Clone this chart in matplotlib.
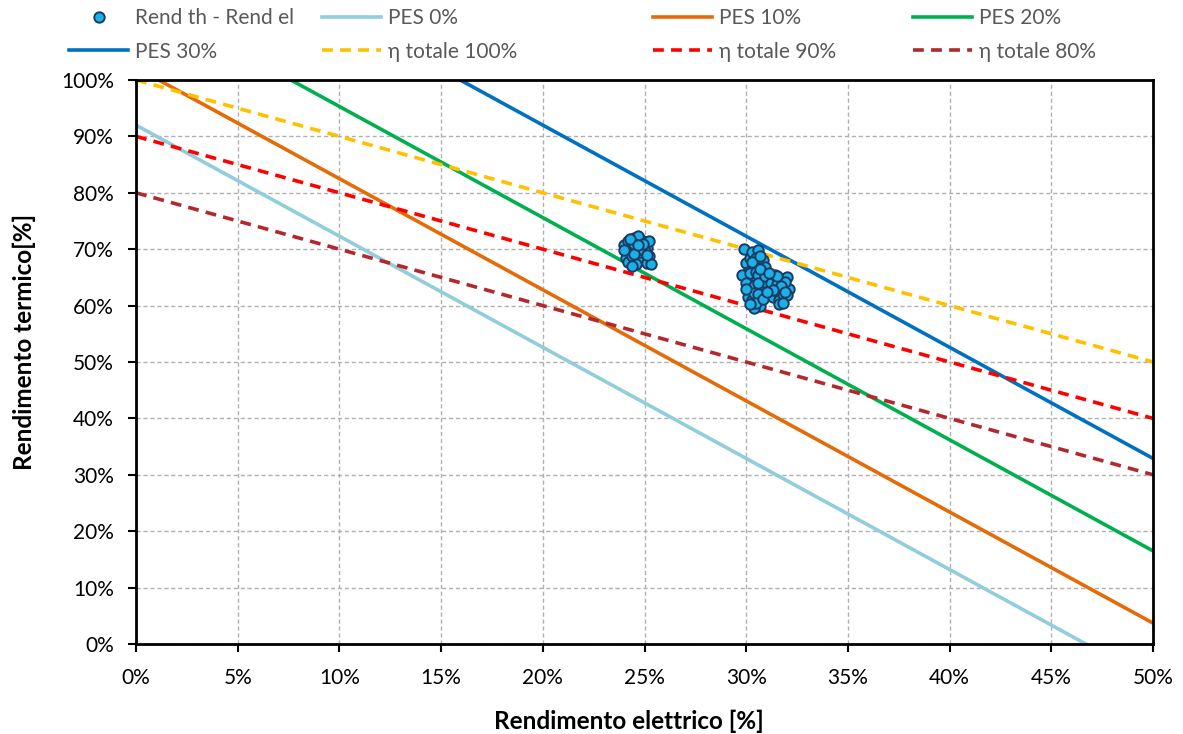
import matplotlib.pyplot as plt
from matplotlib.ticker import FuncFormatter, MultipleLocator

plt.rcParams['font.family'] = ['Lato', 'DejaVu Sans']

# Measured operating points: electric efficiency [%], thermal efficiency [%]
rend_el = [24.0, 24.2, 24.3, 24.5, 24.6, 24.8, 24.9, 25.0, 25.1, 25.2,
           24.1, 24.3, 24.4, 24.6, 24.7, 24.9, 25.0, 25.2, 24.2, 24.4,
           24.5, 24.7, 24.8, 25.0, 25.1, 24.3, 24.6, 24.8, 24.9, 25.3,
           24.5, 24.7, 24.4, 25.1, 24.0,
           29.9, 30.0, 30.1, 30.2, 30.3, 30.4, 30.5, 30.6, 30.7, 30.8,
           29.8, 30.0, 30.2, 30.3, 30.5, 30.6, 30.8, 30.9, 31.0, 30.1,
           30.3, 30.4, 30.6, 30.7, 30.9, 30.2, 30.4, 30.5, 30.7, 30.8,
           30.3, 30.5, 30.6, 30.4, 30.6, 30.5, 30.7, 30.8, 30.6, 30.9,
           31.2, 31.4, 31.5, 31.7, 31.8, 32.0, 32.1, 31.3, 31.5, 31.6,
           31.8, 31.9, 32.0, 31.4, 31.6, 31.7, 31.9, 31.5, 31.8, 31.3,
           30.0, 30.2, 30.7, 31.0, 31.1]
rend_th = [70.8, 71.5, 69.5, 72.0, 70.5, 71.8, 69.8, 71.2, 70.2, 68.8,
           68.5, 70.0, 71.0, 69.0, 72.3, 70.6, 68.2, 71.5, 67.8, 68.8,
           70.9, 68.0, 69.5, 69.6, 67.5, 71.8, 67.3, 70.0, 71.0, 67.3,
           69.2, 70.8, 67.0, 69.0, 69.8,
           70.0, 67.5, 66.0, 68.5, 69.5, 64.5, 67.0, 69.8, 66.2, 68.0,
           65.5, 64.0, 63.0, 66.5, 65.0, 62.5, 64.8, 66.8, 63.5, 61.5,
           61.0, 63.5, 60.8, 63.0, 61.8, 65.8, 62.2, 68.5, 60.0, 64.2,
           67.8, 66.0, 62.0, 59.5, 65.5, 60.5, 68.8, 61.2, 64.0, 65.2,
           64.0, 65.5, 62.5, 64.8, 63.0, 65.0, 63.0, 61.5, 63.8, 61.0,
           62.0, 64.2, 61.8, 62.8, 60.2, 63.5, 62.5, 65.2, 60.5, 62.8,
           63.0, 60.2, 66.5, 62.5, 65.8]

# PES iso-lines, endpoints (x in %, y in %)
pes_x = [[0, 46.7], [0, 50], [0, 50], [0, 50]]
pes_y = [[92.0, 0.0], [102.2, 3.7], [115.0, 16.5], [131.4, 32.9]]
pes_labels = ['PES 0%', 'PES 10%', 'PES 20%', 'PES 30%']
pes_colors = ['#92CDDC', '#E36C09', '#00B050', '#0070C0']

# total efficiency iso-lines
tot_x = [[0, 50], [0, 50], [0, 50]]
tot_y = [[100, 50], [90, 40], [80, 30]]
tot_labels = ['\u03b7 totale 100%', '\u03b7 totale 90%', '\u03b7 totale 80%']
tot_colors = ['#FFC000', '#FF0000', '#B2282E']

fig = plt.figure(figsize=(11.83, 7.34), dpi=100)
ax = fig.add_axes([0.115, 0.1226, 0.8597, 0.7684])

handles = []
for xs, ys, lab, c in zip(pes_x, pes_y, pes_labels, pes_colors):
    h, = ax.plot(xs, ys, color=c, lw=2.6, label=lab, zorder=2)
    handles.append(h)
for xs, ys, lab, c in zip(tot_x, tot_y, tot_labels, tot_colors):
    h, = ax.plot(xs, ys, color=c, lw=2.6, ls=(0, (3, 2)), label=lab, zorder=2)
    handles.append(h)
sc, = ax.plot(rend_el, rend_th, 'o', ms=7.5, mfc='#1AB0E8', mec='#1B3B63',
              mew=1.4, ls='none', label='Rend th - Rend el', zorder=3)

ax.set_xlim(0, 50)
ax.set_ylim(0, 100)
ax.xaxis.set_major_locator(MultipleLocator(5))
ax.yaxis.set_major_locator(MultipleLocator(10))
pct = FuncFormatter(lambda v, p: f'{v:.0f}%')
ax.xaxis.set_major_formatter(pct)
ax.yaxis.set_major_formatter(pct)
ax.tick_params(direction='out', length=6, width=1.5, labelsize=15)
ax.tick_params(axis='y', pad=10)
ax.tick_params(axis='x', pad=11)
ax.grid(True, color='#B0B0B0', ls=(0, (3, 2)), lw=1)
ax.set_axisbelow(True)
for s in ax.spines.values():
    s.set_linewidth(2)
    s.set_color('black')

ax.set_xlabel('Rendimento elettrico [%]', fontsize=17.5, fontweight='bold')
ax.set_ylabel('Rendimento termico[%]', fontsize=17.5, fontweight='bold')
ax.xaxis.set_label_coords(0.485, -0.116)
ax.yaxis.set_label_coords(-0.098, 0.535)

# legend: one two-entry column per anchor, placed along the top
columns = [[sc, handles[3]], [handles[0], handles[4]],
           [handles[1], handles[5]], [handles[2], handles[6]]]
col_x = [69, 322, 653, 913]
for hs, x0 in zip(columns, col_x):
    leg = fig.legend(hs, [h.get_label() for h in hs], loc='upper left',
                     bbox_to_anchor=(x0 / 1183, 1 - 8 / 734), frameon=False,
                     fontsize=15, handlelength=2.85, handletextpad=0.3,
                     labelspacing=0.65, borderpad=0, borderaxespad=0)
    for t in leg.get_texts():
        t.set_color('#595959')

fig.savefig('out.png', dpi=100)
